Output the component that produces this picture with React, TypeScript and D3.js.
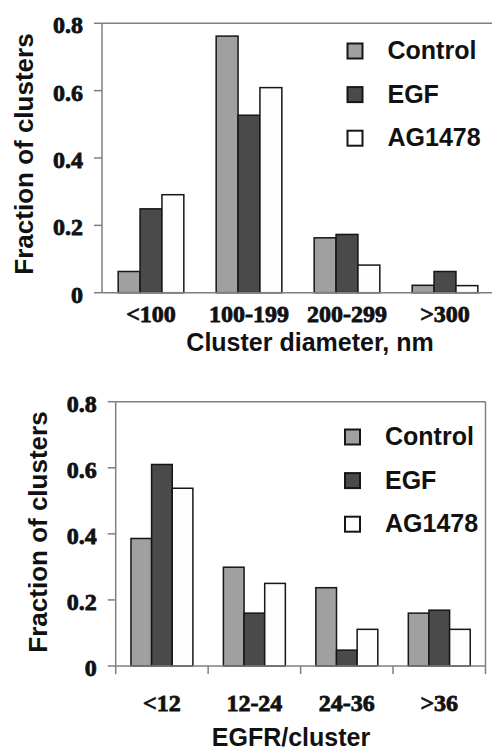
import React, { useEffect, useRef } from 'react';
import * as d3 from 'd3';

const seriesNames = ["Control", "EGF", "AG1478"]
const seriesColors = ["#a0a0a0", "#4a4a4a", "#fdfdfd"]
const yTicks = [0, 0.2, 0.4, 0.6, 0.8]
const yTickLabels = ["0", "0.2", "0.4", "0.6", "0.8"]

// top panel: cluster diameter
const diameterCategories = ["<100", "100-199", "200-299", ">300"]
const diameterControl = [0.063, 0.762, 0.163, 0.022]
const diameterEGF = [0.249, 0.527, 0.173, 0.063]
const diameterAG1478 = [0.291, 0.609, 0.082, 0.021]

// bottom panel: receptors per cluster
const egfrCategories = ["<12", "12-24", "24-36", ">36"]
const egfrControl = [0.386, 0.299, 0.237, 0.160]
const egfrEGF = [0.610, 0.160, 0.048, 0.169]
const egfrAG1478 = [0.538, 0.250, 0.111, 0.111]

const sans = "Liberation Sans, Arial, sans-serif"
const serif = "Liberation Serif, Times New Roman, serif"

function serifText(sel) {
  return sel
    .attr("font-family", serif)
    .attr("font-weight", 700)
    .attr("font-size", 24)
    .attr("fill", "#111")
    .attr("stroke", "#111")
    .attr("stroke-width", 0.8)
}

function drawPanel(svg, p) {
  const x = d3.scaleBand()
    .domain(p.categories)
    .range([p.left, p.right])
    .paddingInner(0.33)
    .paddingOuter(0.165)

  const xs = d3.scaleBand()
    .domain(seriesNames)
    .range([0, x.bandwidth()])

  const y = d3.scaleLinear()
    .domain([0, 0.8])
    .range([p.bottom, p.top])

  const g = svg.append("g")

  // frame
  g.append("line")
    .attr("x1", p.left).attr("x2", p.right)
    .attr("y1", p.top).attr("y2", p.top)
    .attr("stroke", "#7f7f7f").attr("stroke-width", 1.5)
  if (p.rightBorder) {
    g.append("line")
      .attr("x1", p.right).attr("x2", p.right)
      .attr("y1", p.top).attr("y2", p.bottom)
      .attr("stroke", "#7f7f7f").attr("stroke-width", 1.5)
  }

  // y axis
  g.append("line")
    .attr("x1", p.left).attr("x2", p.left)
    .attr("y1", p.top).attr("y2", p.bottom)
    .attr("stroke", "#7f7f7f").attr("stroke-width", 1.5)

  g.selectAll(".ytick")
    .data(yTicks)
    .enter()
    .append("line")
    .attr("x1", p.left - 8).attr("x2", p.left)
    .attr("y1", d => y(d)).attr("y2", d => y(d))
    .attr("stroke", "#7f7f7f").attr("stroke-width", 1.5)

  g.selectAll(".ylabel")
    .data(yTicks)
    .enter()
    .append("text")
    .attr("x", p.left - 19)
    .attr("y", d => y(d) + 10)
    .attr("text-anchor", "end")
    .call(serifText)
    .text((d, i) => yTickLabels[i])

  // bars
  const series = [p.control, p.egf, p.ag]
  series.forEach((vals, si) => {
    g.selectAll(".bar" + si)
      .data(vals)
      .enter()
      .append("rect")
      .attr("x", (d, i) => x(p.categories[i]) + xs(seriesNames[si]))
      .attr("y", d => y(d))
      .attr("width", xs.bandwidth())
      .attr("height", d => y(0) - y(d))
      .attr("fill", seriesColors[si])
      .attr("stroke", "#161616")
      .attr("stroke-width", 1.5)
  })

  // x axis line
  g.append("line")
    .attr("x1", p.left).attr("x2", p.axisEnd)
    .attr("y1", p.bottom).attr("y2", p.bottom)
    .attr("stroke", "#7f7f7f").attr("stroke-width", 1.5)

  if (p.xTicks) {
    const bounds = p.categories.map(c => x(c) - x.step() * 0.165).concat([p.right])
    g.selectAll(".xtick")
      .data(bounds)
      .enter()
      .append("line")
      .attr("x1", d => d).attr("x2", d => d)
      .attr("y1", p.bottom).attr("y2", p.bottom + 8)
      .attr("stroke", "#7f7f7f").attr("stroke-width", 1.5)
  }

  g.selectAll(".xlabel")
    .data(p.categories)
    .enter()
    .append("text")
    .attr("x", d => x(d) + x.bandwidth() / 2)
    .attr("y", p.xLabelY)
    .attr("text-anchor", "middle")
    .call(serifText)
    .text(d => d)

  g.append("text")
    .attr("x", p.xTitleX)
    .attr("y", p.xTitleY)
    .attr("text-anchor", "middle")
    .attr("font-family", sans)
    .attr("font-weight", "bold")
    .attr("font-size", 25)
    .attr("fill", "#111")
    .text(p.xTitle)

  g.append("text")
    .attr("transform", `translate(${p.yTitleX},${p.yTitleY}) rotate(-90)`)
    .attr("text-anchor", "middle")
    .attr("font-family", sans)
    .attr("font-weight", "bold")
    .attr("font-size", 26)
    .attr("fill", "#111")
    .text("Fraction of clusters")

  // legend
  const lg = g.selectAll(".legend")
    .data(seriesNames)
    .enter()
    .append("g")
    .attr("transform", (d, i) => `translate(${p.legendX},${p.legendY + i * 43.6})`)
  lg.append("rect")
    .attr("width", 15).attr("height", 15)
    .attr("fill", (d, i) => seriesColors[i])
    .attr("stroke", "#161616")
    .attr("stroke-width", 2)
  lg.append("text")
    .attr("x", 40)
    .attr("y", 15.5)
    .attr("font-family", sans)
    .attr("font-weight", "bold")
    .attr("font-size", 25)
    .attr("fill", "#111")
    .text(d => d)
}

export default function App() {
  const ref = useRef(null)

  useEffect(() => {
    const svg = d3.select(ref.current)
    svg.selectAll("*").remove()

    drawPanel(svg, {
      categories: diameterCategories,
      control: diameterControl, egf: diameterEGF, ag: diameterAG1478,
      left: 102, right: 494, top: 23.3, bottom: 292.7, axisEnd: 492,
      rightBorder: false, xTicks: false,
      xLabelY: 322, xTitle: "Cluster diameter, nm", xTitleX: 310, xTitleY: 351,
      yTitleX: 33, yTitleY: 154,
      legendX: 347.5, legendY: 43.5,
    })

    drawPanel(svg, {
      categories: egfrCategories,
      control: egfrControl, egf: egfrEGF, ag: egfrAG1478,
      left: 115.7, right: 485.5, top: 401.7, bottom: 666, axisEnd: 485.5,
      rightBorder: true, xTicks: true,
      xLabelY: 711, xTitle: "EGFR/cluster", xTitleX: 291, xTitleY: 746,
      yTitleX: 46.5, yTitleY: 532,
      legendX: 345, legendY: 429.5,
    })
  }, [])

  return (
    <svg ref={ref} width={492} height={750}
      style={{ position: "absolute", left: 0, top: 0, background: "#fff" }} />
  )
}
